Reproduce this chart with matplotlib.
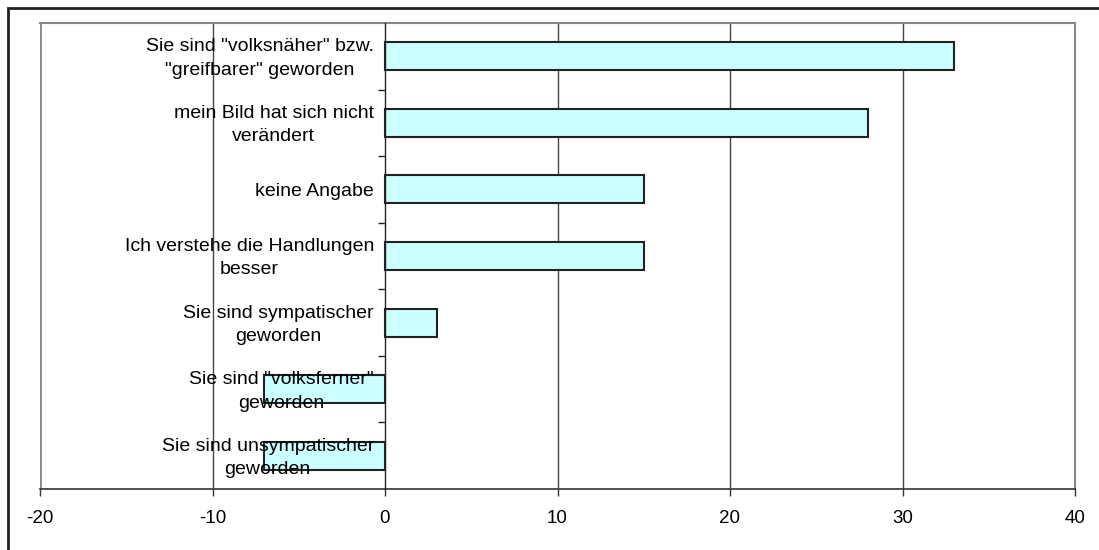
import matplotlib
matplotlib.use("Agg")
import matplotlib.pyplot as plt
import matplotlib.transforms as mtransforms
from matplotlib.patches import Rectangle

plt.rcParams['font.family'] = ['Liberation Sans', 'DejaVu Sans']

# answers, top to bottom
labels = [
    'Sie sind "volksnäher" bzw.\n"greifbarer" geworden',
    'mein Bild hat sich nicht\nverändert',
    'keine Angabe',
    'Ich verstehe die Handlungen\nbesser',
    'Sie sind sympatischer\ngeworden',
    'Sie sind "volksferner"\ngeworden',
    'Sie sind unsympatischer\ngeworden',
]
values = [33, 28, 15, 15, 3, -7, -7]
x_ticks = [-20, -10, 0, 10, 20, 30, 40]

fig = plt.figure(figsize=(10.99, 5.5), dpi=100)
ax = fig.add_axes([40 / 1099, 1 - 489 / 550, 1035 / 1099, 466 / 550])
ax.set_axisbelow(False)

n = len(labels)
pos = [n - 1 - i for i in range(n)]
ax.barh(pos, values, height=0.42, color='#ccffff', edgecolor='#222222',
        linewidth=1.5, zorder=1)

ax.set_xlim(-20, 40)
ax.set_ylim(-0.5, n - 0.5)

# vertical gridlines
for x in [-10, 10, 20, 30]:
    ax.axvline(x, color='#444444', linewidth=1.0, zorder=0.5)

# value axis at zero
ax.spines['left'].set_position(('data', 0))
ax.spines['left'].set_color('#222222')
ax.spines['left'].set_linewidth(1.0)
ax.spines['left'].set_zorder(3)
ax.axvline(-20, color='#888888', linewidth=2, zorder=0.5)
for s in ['top', 'right']:
    ax.spines[s].set_color('#888888')
    ax.spines[s].set_linewidth(1.5)
ax.spines['bottom'].set_color('#333333')
ax.spines['bottom'].set_linewidth(1.2)

ax.set_xticks(x_ticks)
ax.set_xticklabels([str(v) for v in x_ticks])
ax.tick_params(axis='x', direction='out', length=5, width=1, color='#333333',
               labelsize=13.5, pad=10)

# category boundaries get tick marks, centers get the text
ax.set_yticks([p + 0.5 for p in range(n - 1)])
ax.set_yticklabels([])
ax.tick_params(axis='y', which='major', direction='out', length=5, width=1,
               color='#222222')
ax.set_yticks(pos, minor=True)
ax.set_yticklabels(labels, minor=True, multialignment='center')
ax.tick_params(axis='y', which='minor', length=0, labelsize=14, pad=8)
lift = mtransforms.ScaledTranslation(0, 3 / 100, fig.dpi_scale_trans)
for lab in ax.get_yticklabels(minor=True):
    lab.set_linespacing(1.5)
    if '\n' in lab.get_text():
        lab.set_transform(lab.get_transform() + lift)

# outer chart border
fig.patches.append(Rectangle((8 / 1099, -0.2), 1.2, 1.2 - 8 / 550,
                             transform=fig.transFigure, fill=False,
                             edgecolor='#222222', linewidth=2, clip_on=False))

fig.savefig('out.png', dpi=100)
